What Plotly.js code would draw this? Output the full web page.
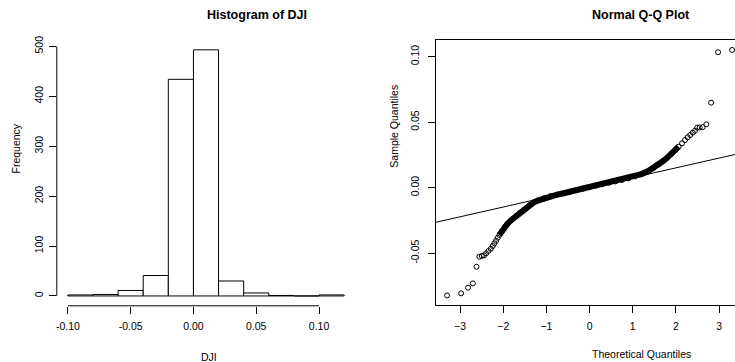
<!DOCTYPE html>
<html><head><meta charset="utf-8">
<script src="https://cdn.plot.ly/plotly-3.0.1.min.js"></script>
<style>html,body{margin:0;padding:0;background:#fff}#chart{width:735px;height:362px}</style>
</head><body><div id="chart"></div><script>
// ---- Histogram data ----
const histBreaks = [-0.10,-0.08,-0.06,-0.04,-0.02,0.00,0.02,0.04,0.06,0.08,0.10,0.12];
const histCounts = [2,3,11,41,434,493,30,6,1,0,2];
const histXTicks = [-0.10,-0.05,0.00,0.05,0.10];
const histXTickText = ['-0.10','-0.05','0.00','0.05','0.10'];
const histYTicks = [0,100,200,300,400,500];
const histYTickText = ['0','100','200','300','400','500'];

// ---- Q-Q data ----
const qqTailX = [-3.30,-2.975,-2.814,-2.703,-2.619,-2.553,-2.497,-2.444,-2.397,-2.344,-2.289,-2.242,-2.205,-2.166,-2.127,
                 2.14,2.21,2.27,2.33,2.39,2.44,2.491,2.549,2.619,2.703,2.814,2.975,3.30];
const qqTailY = [-0.0822,-0.0806,-0.0763,-0.0730,-0.0603,-0.0527,-0.0521,-0.0516,-0.0501,-0.0483,-0.0466,-0.0445,-0.0424,-0.0405,-0.0382,
                 0.0339,0.0364,0.0385,0.0402,0.0420,0.0435,0.0458,0.0460,0.0462,0.0484,0.0649,0.1034,0.1051];
const qqBandX = [-2.09,-2.03,-1.96,-1.90,-1.83,-1.765,-1.69,-1.61,-1.53,-1.45,-1.38,-1.30,-1.20,-1.05,-0.90,-0.75,-0.60,-0.45,-0.30,-0.15,
                 0.00,0.15,0.30,0.45,0.60,0.75,0.90,1.05,1.20,1.35,1.48,1.60,1.71,1.80,1.90,1.98,2.06];
const qqBandY = [-0.0361,-0.0330,-0.0298,-0.0275,-0.0252,-0.0234,-0.0212,-0.0190,-0.0170,-0.0150,-0.0132,-0.0114,-0.0098,-0.0080,-0.0064,-0.0053,-0.0042,-0.0030,-0.0019,-0.0007,
                 0.0005,0.0016,0.0027,0.0038,0.0048,0.0059,0.0071,0.0086,0.0104,0.0125,0.0150,0.0178,0.0205,0.0230,0.0258,0.0285,0.0313];
const qqLineIntercept = 0.0002;
const qqLineSlope = 0.00747;
const qqXTicks = [-3,-2,-1,0,1,2,3];
const qqYTicks = [-0.05,0.00,0.05,0.10];
const qqYTickText = ['-0.05','0.00','0.05','0.10'];

// ---- layout geometry (pixels of the 735x362 page) ----
const W = 735, H = 362;
const FONT = 'Liberation Sans, Arial, Helvetica, sans-serif';
const px = v => v / W, py = v => 1 - v / H;

const histLeft = 56.8, histRight = 355.2, histTop = 40, histBottom = 305.8;
const qqLeft = 435.7, qqTop = 40, qqBottom = 305;

const bxLo = histBreaks[0], bxHi = histBreaks[histBreaks.length-1];
const bxPad = (bxHi - bxLo) * 0.04;
const cMax = Math.max(...histCounts);
const cPad = cMax * 0.04;

const centers = [], widths = [];
for (let i = 0; i < histCounts.length; i++) {
  centers.push((histBreaks[i] + histBreaks[i+1]) / 2);
  widths.push(histBreaks[i+1] - histBreaks[i]);
}

const qqXRange = [-3.564, 3.367];
const qqYRange = [-0.0895, 0.1127];

const traces = [
  {type:'bar', x:centers, y:histCounts, width:widths, xaxis:'x', yaxis:'y',
   marker:{color:'white', line:{color:'black', width:1}}, hoverinfo:'skip'},
  {type:'scatter', mode:'lines', xaxis:'x2', yaxis:'y2',
   x:qqXRange, y:qqXRange.map(v => qqLineIntercept + qqLineSlope * v),
   line:{color:'black', width:1}, hoverinfo:'skip'},
  {type:'scatter', mode:'lines+markers', xaxis:'x2', yaxis:'y2', x:qqBandX, y:qqBandY,
   line:{color:'black', width:6},
   marker:{symbol:'circle-open', size:5, color:'black', line:{width:1}}, hoverinfo:'skip'},
  {type:'scatter', mode:'markers', xaxis:'x2', yaxis:'y2', x:qqTailX, y:qqTailY,
   marker:{symbol:'circle-open', size:5, color:'black', line:{width:1}}, hoverinfo:'skip'}
];

const tickFont = {family:FONT, size:10.5, color:'black'};
const axCommon = {showgrid:false, zeroline:false, ticks:'outside', ticklen:7, tickwidth:1,
  tickcolor:'black', tickfont:tickFont, fixedrange:true};

const layout = {
  width:W, height:H, margin:{l:0,r:0,t:0,b:0}, showlegend:false,
  paper_bgcolor:'white', plot_bgcolor:'white', bargap:0,
  font:{family:FONT, color:'black'},
  xaxis:Object.assign({}, axCommon, {domain:[px(histLeft), px(histRight)], anchor:'y',
    range:[bxLo - bxPad, bxHi + bxPad], tickvals:histXTicks, ticktext:histXTickText,
    showline:false, ticklabelstandoff:4}),
  yaxis:Object.assign({}, axCommon, {domain:[py(histBottom), py(histTop)], anchor:'x',
    range:[-cPad, cMax + cPad], tickvals:histYTicks, ticktext:histYTickText,
    showline:false, tickangle:-90, ticklabelstandoff:2}),
  xaxis2:Object.assign({}, axCommon, {domain:[px(qqLeft), 1], anchor:'y2',
    range:qqXRange, tickvals:qqXTicks, showline:true, mirror:true, linecolor:'black', linewidth:1,
    ticklabelstandoff:4}),
  yaxis2:Object.assign({}, axCommon, {domain:[py(qqBottom), py(qqTop)], anchor:'x2',
    range:qqYRange, tickvals:qqYTicks, ticktext:qqYTickText, showline:true, linecolor:'black', linewidth:1,
    tickangle:-90, ticklabelstandoff:5}),
  shapes:[
    {type:'line', xref:'x', yref:'paper', x0:histXTicks[0], x1:histXTicks[histXTicks.length-1],
     y0:py(histBottom), y1:py(histBottom), line:{color:'black', width:1}},
    {type:'line', xref:'paper', yref:'y', x0:px(histLeft), x1:px(histLeft),
     y0:histYTicks[0], y1:histYTicks[histYTicks.length-1], line:{color:'black', width:1}}
  ],
  annotations:[
    {text:'<b>Histogram of DJI</b>', xref:'paper', yref:'paper', x:px(256.7), y:py(15),
     showarrow:false, font:{family:FONT, size:12.5, color:'black'}, xanchor:'center', yanchor:'middle'},
    {text:'<b>Normal Q-Q Plot</b>', xref:'paper', yref:'paper', x:px(641), y:py(15),
     showarrow:false, font:{family:FONT, size:12.5, color:'black'}, xanchor:'center', yanchor:'middle'},
    {text:'DJI', xref:'paper', yref:'paper', x:px(209), y:py(356.5),
     showarrow:false, font:{family:FONT, size:10.5, color:'black'}, xanchor:'center', yanchor:'middle'},
    {text:'Theoretical Quantiles', xref:'paper', yref:'paper', x:px(641.7), y:py(354),
     showarrow:false, font:{family:FONT, size:10.5, color:'black'}, xanchor:'center', yanchor:'middle'},
    {text:'Frequency', xref:'paper', yref:'paper', x:px(15.5), y:py(148), textangle:-90,
     showarrow:false, font:{family:FONT, size:10.5, color:'black'}, xanchor:'center', yanchor:'middle'},
    {text:'Sample Quantiles', xref:'paper', yref:'paper', x:px(393.7), y:py(126), textangle:-90,
     showarrow:false, font:{family:FONT, size:10.5, color:'black'}, xanchor:'center', yanchor:'middle'}
  ]
};

Plotly.newPlot('chart', traces, layout, {staticPlot:true, displayModeBar:false});
</script></body></html>
